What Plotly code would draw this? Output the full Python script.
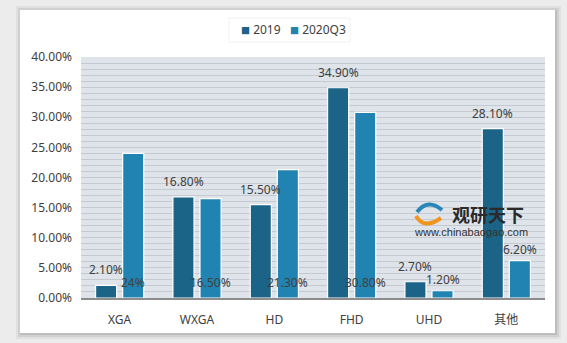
import plotly.graph_objects as go

categories = ["XGA", "WXGA", "HD", "FHD", "UHD", "其他"]
series_names = ["2019", "2020Q3"]
values_2019 = [0.021, 0.168, 0.155, 0.349, 0.027, 0.281]
values_2020q3 = [0.240, 0.165, 0.213, 0.308, 0.012, 0.062]
labels_2019 = ["2.10%", "16.80%", "15.50%", "34.90%", "2.70%", "28.10%"]
labels_2020q3 = ["24%", "16.50%", "21.30%", "30.80%", "1.20%", "6.20%"]
# whether the 2020Q3 label sits at the bar base (as in the source chart)
label_at_base_2020q3 = [True, True, True, True, False, False]
y_ticks = [0, 0.05, 0.10, 0.15, 0.20, 0.25, 0.30, 0.35, 0.40]

c2019 = "#1b6387"
c2020 = "#2083b1"
colors = [c2019, c2020]
text_color = "#404040"
font_family = "Noto Sans, Noto Sans CJK SC, sans-serif"

W, H = 567, 343
L, R, T, B = 81, 22, 57, 45
pw, ph = W - L - R, H - T - B

def px_x(x):
    return (x - L) / pw

def px_y(y):
    return (H - B - y) / ph

fig = go.Figure()
for name, vals, col in zip(series_names, [values_2019, values_2020q3], colors):
    fig.add_bar(name=name, x=categories, y=vals, showlegend=False,
                marker=dict(color=col, line=dict(color="white", width=1.2)))

slot = pw / len(categories) * (1 - 0.3) / 2
annotations = []
for cat, v, t in zip(categories, values_2019, labels_2019):
    annotations.append(dict(x=cat, y=v, text=t, xref="x", yref="y", showarrow=False,
                            xshift=-slot / 2, yshift=5, yanchor="bottom",
                            font=dict(size=12, color=text_color, family=font_family)))
for cat, v, t, base in zip(categories, values_2020q3, labels_2020q3, label_at_base_2020q3):
    annotations.append(dict(x=cat, y=0 if base else v, text=t, xref="x", yref="y", showarrow=False,
                            xshift=slot / 2, yshift=5 if base else 1, yanchor="bottom",
                            font=dict(size=12, color=text_color, family=font_family)))

# legend (drawn as text items)
legend_x = [239, 288]
for name, col, lx in zip(series_names, colors, legend_x):
    annotations.append(dict(x=px_x(lx), y=px_y(30), xref="paper", yref="paper",
                            text=f"<span style='color:{col};font-size:9px'>■</span> {name}",
                            showarrow=False, xanchor="left", yanchor="middle",
                            font=dict(size=12, color=text_color, family=font_family)))

# watermark
annotations.append(dict(x=px_x(450), y=px_y(214), xref="paper", yref="paper", text="<b>观研天下</b>",
                        showarrow=False, xanchor="left", yanchor="middle",
                        font=dict(size=18, color="#2a2a2a", family="Noto Sans CJK SC")))
annotations.append(dict(x=px_x(471), y=px_y(232), xref="paper", yref="paper", text="www.chinabaogao.com",
                        showarrow=False, xanchor="center", yanchor="middle",
                        font=dict(size=11, color="#333333", family="Liberation Sans, Arial")))

shapes = []
# card shadow layers
for i, op in enumerate([0.05, 0.07, 0.09]):
    d = 6 - 2 * i
    shapes.append(dict(type="rect", xref="paper", yref="paper", layer="below",
                       x0=px_x(20 - d + 2), x1=px_x(555 + d), y0=px_y(333 + d), y1=px_y(10 - d + 2),
                       fillcolor=f"rgba(0,0,0,{op})", line=dict(width=0)))
# white card
shapes.append(dict(type="rect", xref="paper", yref="paper", layer="below",
                   x0=px_x(20), x1=px_x(555), y0=px_y(333), y1=px_y(10),
                   fillcolor="white", line=dict(width=0)))
# legend box
shapes.append(dict(type="rect", xref="paper", yref="paper", layer="below",
                   x0=px_x(229), x1=px_x(350), y0=px_y(42), y1=px_y(18),
                   fillcolor="white", line=dict(color="#f2f2f2", width=1)))
# plot area background
shapes.append(dict(type="rect", xref="paper", yref="paper", layer="below",
                   x0=0, x1=1, y0=0, y1=1, fillcolor="#dfe4ea", line=dict(width=0)))
# logo approximation
shapes.append(dict(type="path", xref="paper", yref="paper", layer="above",
                   path=f"M {px_x(417)} {px_y(212)} Q {px_x(428)} {px_y(198)} {px_x(442)} {px_y(210)}",
                   line=dict(color="#2a86b8", width=4)))
shapes.append(dict(type="path", xref="paper", yref="paper", layer="above",
                   path=f"M {px_x(416)} {px_y(216)} Q {px_x(424)} {px_y(230)} {px_x(441)} {px_y(218)}",
                   line=dict(color="#f0951e", width=4)))

fig.update_layout(
    width=W, height=H,
    margin=dict(l=L, r=R, t=T, b=B),
    paper_bgcolor="#ececec",
    plot_bgcolor="rgba(0,0,0,0)",
    barmode="group", bargap=0.3, bargroupgap=0.22,
    showlegend=False,
    font=dict(family=font_family, color=text_color, size=12),
    annotations=annotations,
    shapes=shapes,
    xaxis=dict(showgrid=False, showline=True, linecolor="#8c8c8c", linewidth=1.5,
               ticks="", tickfont=dict(size=12, color=text_color), ticklabelstandoff=10),
    yaxis=dict(range=[0, 0.4], tickvals=y_ticks, tickformat=".2%",
               showgrid=True, gridcolor="#c5cad0", gridwidth=1,
               minor=dict(dtick=0.01, showgrid=True, gridcolor="#c5cad0", gridwidth=1),
               zeroline=False, showline=False, ticks="",
               tickfont=dict(size=12, color=text_color), ticklabelstandoff=8),
)

fig.write_html("out.html")
